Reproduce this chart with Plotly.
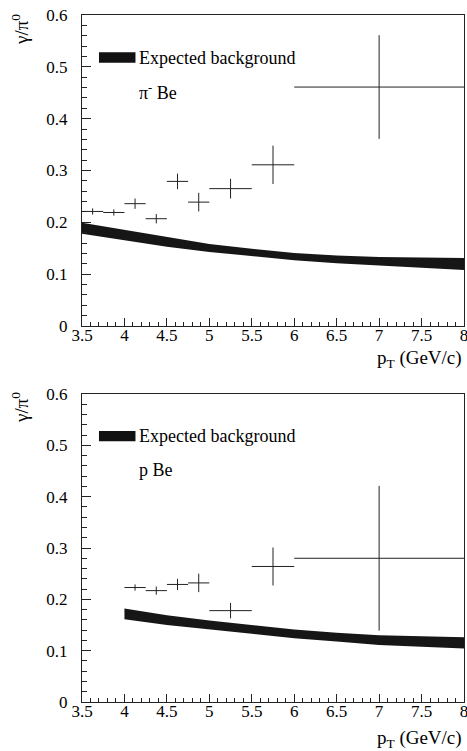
import plotly.graph_objects as go

# ---------------- data ----------------
# pi- Be panel
pim_x = [3.625, 3.875, 4.125, 4.375, 4.625, 4.875, 5.25, 5.75, 7.0]
pim_xerr = [0.125, 0.125, 0.125, 0.125, 0.125, 0.125, 0.25, 0.25, 1.0]
pim_y = [0.221, 0.219, 0.236, 0.207, 0.279, 0.239, 0.265, 0.311, 0.461]
pim_yerr = [0.006, 0.006, 0.010, 0.009, 0.015, 0.018, 0.019, 0.037, 0.100]
pim_bg_x = [3.5, 4.0, 4.5, 5.0, 5.5, 6.0, 6.5, 7.0, 7.5, 8.0]
pim_bg_hi = [0.199, 0.185, 0.171, 0.158, 0.149, 0.141, 0.136, 0.133, 0.132, 0.131]
pim_bg_lo = [0.178, 0.166, 0.153, 0.143, 0.135, 0.127, 0.121, 0.116, 0.112, 0.108]

# p Be panel
p_x = [4.125, 4.375, 4.625, 4.875, 5.25, 5.75, 7.0]
p_xerr = [0.125, 0.125, 0.125, 0.125, 0.25, 0.25, 1.0]
p_y = [0.223, 0.217, 0.229, 0.232, 0.178, 0.264, 0.280]
p_yerr = [0.006, 0.008, 0.011, 0.018, 0.015, 0.037, 0.141]
p_bg_x = [4.0, 4.5, 5.0, 5.5, 6.0, 6.5, 7.0, 7.5, 8.0]
p_bg_hi = [0.182, 0.169, 0.159, 0.150, 0.141, 0.135, 0.130, 0.128, 0.126]
p_bg_lo = [0.161, 0.150, 0.142, 0.133, 0.124, 0.118, 0.111, 0.107, 0.104]

x_tickvals = [3.5, 4, 4.5, 5, 5.5, 6, 6.5, 7, 7.5, 8]
x_ticktext = ["3.5", "4", "4.5", "5", "5.5", "6", "6.5", "7", "7.5", "8"]
y_tickvals = [0, 0.1, 0.2, 0.3, 0.4, 0.5, 0.6]
y_ticktext = ["0", "0.1", "0.2", "0.3", "0.4", "0.5", "0.6"]

FONT = "Liberation Serif, Times New Roman, Times, serif"
INK = "#222222"
FS = 17

fig = go.Figure()


def add_panel(xs, xe, ys, ye, bx, bhi, blo, xa, ya):
    fig.add_trace(go.Scatter(
        x=bx + bx[::-1], y=bhi + blo[::-1], fill="toself",
        fillcolor="#161616", line=dict(width=0, color="#161616"),
        mode="lines", xaxis=xa, yaxis=ya, showlegend=False, hoverinfo="skip"))
    fig.add_trace(go.Scatter(
        x=xs, y=ys, mode="markers",
        marker=dict(size=1, color="rgba(0,0,0,0)"),
        error_x=dict(type="data", array=xe, symmetric=True, width=0,
                     thickness=1, color=INK),
        error_y=dict(type="data", array=ye, symmetric=True, width=0,
                     thickness=1, color=INK),
        xaxis=xa, yaxis=ya, showlegend=False))


add_panel(pim_x, pim_xerr, pim_y, pim_yerr, pim_bg_x, pim_bg_hi, pim_bg_lo, "x", "y")
add_panel(p_x, p_xerr, p_y, p_yerr, p_bg_x, p_bg_hi, p_bg_lo, "x2", "y2")

xcommon = dict(range=[3.5, 8.0], tickmode="array", tickvals=x_tickvals,
               ticktext=x_ticktext, ticks="inside", ticklen=8,
               tickwidth=1, tickcolor=INK, showline=True, linecolor=INK,
               linewidth=1, mirror=True, showgrid=False, zeroline=False,
               tickfont=dict(family=FONT, size=FS, color="black"),
               minor=dict(dtick=0.1, tick0=3.5, ticks="inside", ticklen=4,
                          tickcolor=INK, showgrid=False),
               ticklabeloverflow="allow", ticklabelstandoff=-6, automargin=False)
ycommon = dict(range=[0, 0.6], tickmode="array", tickvals=y_tickvals,
               ticktext=y_ticktext, ticks="inside", ticklen=9,
               tickwidth=1, tickcolor=INK, showline=True, linecolor=INK,
               linewidth=1, mirror=True, showgrid=False, zeroline=False,
               tickfont=dict(family=FONT, size=FS, color="black"),
               minor=dict(dtick=0.02, tick0=0, ticks="inside", ticklen=5,
                          tickcolor=INK, showgrid=False),
               ticklabeloverflow="allow", ticklabelstandoff=10, automargin=False)

top_lo, top_hi = 376 / 687, 1.0
bot_lo, bot_hi = 0.0, 308 / 687

fig.update_layout(
    width=467, height=751,
    margin=dict(l=82, r=3, t=15, b=49, autoexpand=False),
    paper_bgcolor="white", plot_bgcolor="white",
    font=dict(family=FONT, size=FS, color="black"),
    xaxis=dict(domain=[0, 1], anchor="y", **xcommon),
    yaxis=dict(domain=[top_lo, top_hi], anchor="x", **ycommon),
    xaxis2=dict(domain=[0, 1], anchor="y2", **xcommon),
    yaxis2=dict(domain=[bot_lo, bot_hi], anchor="x2", **ycommon),
    showlegend=False,
)

# legend keys (decoration)
for xr, yr in (("x", "y"), ("x2", "y2")):
    fig.add_shape(type="rect", xref=xr, yref=yr, x0=3.70, x1=4.13,
                  y0=0.508, y1=0.528, fillcolor="#111111", line=dict(width=0))

annots = [
    dict(x=4.15, y=0.518, xref="x", yref="y", text="Expected background"),
    dict(x=4.15, y=0.452, xref="x", yref="y", text="π<sup>-</sup> Be"),
    dict(x=4.15, y=0.518, xref="x2", yref="y2", text="Expected background"),
    dict(x=4.15, y=0.452, xref="x2", yref="y2", text="p Be"),
]
for a in annots:
    fig.add_annotation(**a, showarrow=False, xanchor="left", yanchor="middle",
                       font=dict(family=FONT, size=18, color="black"))

# axis titles
for ypix in (30, 408):
    fig.add_annotation(text="γ/π<sup>0</sup>", textangle=-90, xref="paper",
                       yref="paper", x=-62 / 382, y=(702 - ypix) / 687,
                       showarrow=False, xanchor="center", yanchor="middle",
                       font=dict(family=FONT, size=19, color="black"))
for ypix in (359, 739):
    fig.add_annotation(text="p<sub>T</sub> (GeV/c)", xref="paper", yref="paper",
                       x=1.0, y=(702 - ypix) / 687, showarrow=False,
                       xanchor="right", yanchor="middle",
                       font=dict(family=FONT, size=19, color="black"))

fig.write_html("out.html")
